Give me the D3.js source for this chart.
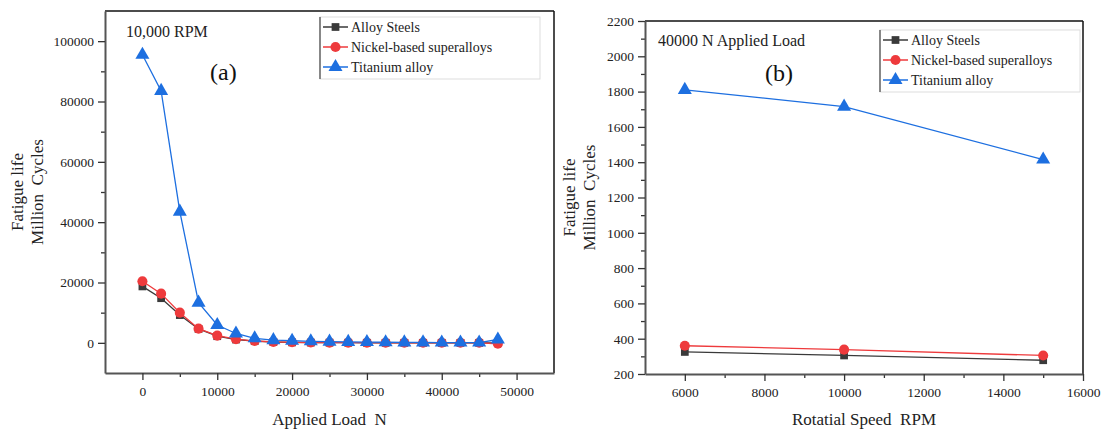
<!DOCTYPE html>
<html>
<head>
<meta charset="utf-8">
<script src="https://cdn.jsdelivr.net/npm/d3@7"></script>
<style>
  body { margin: 0; background: #fff; }
  svg text { font-family: "Liberation Serif", "Times New Roman", serif; white-space: pre; }
  .tick text { fill: #222; }
</style>
</head>
<body>
<div id="chart"></div>
<script>
/* DATA */
const seriesNames = ["Alloy Steels", "Nickel-based superalloys", "Titanium alloy"];

// panel (a): 10,000 RPM, varying load
const loadN = [0, 2500, 5000, 7500, 10000, 12500, 15000, 17500, 20000, 22500,
  25000, 27500, 30000, 32500, 35000, 37500, 40000, 42500, 45000, 47500];
const steelA = [18700, 14800, 9200, 4600, 2200, 1100, 550, 280, 150, 90,
  60, 40, 30, 20, 15, 10, 8, 5, 5, 0];
const nickelA = [20400, 16300, 10000, 4700, 2400, 1200, 600, 300, 200, 100,
  80, 50, 40, 30, 20, 20, 10, 10, 10, -300];
const titaniumA = [95500, 83500, 43500, 13300, 5900, 3100, 1500, 900, 700, 500,
  400, 300, 250, 200, 150, 150, 100, 100, 100, 1100];
const xTicksA = [0, 10000, 20000, 30000, 40000, 50000];
const yTicksA = [0, 20000, 40000, 60000, 80000, 100000];

// panel (b): 40000 N, varying speed
const speedRPM = [6000, 10000, 15000];
const steelB = [325, 305, 278];
const nickelB = [360, 338, 305];
const titaniumB = [1810, 1715, 1415];
const xTicksB = [6000, 8000, 10000, 12000, 14000, 16000];
const yTicksB = [200, 400, 600, 800, 1000, 1200, 1400, 1600, 1800, 2000, 2200];

/* STYLE */
const colors = ["#3a3a3a", "#ee3a3c", "#1d6fe0"];
const shapes = [d3.symbolSquare, d3.symbolCircle, d3.symbolTriangle];
const sizes = [60, 80, 85];
const serif = "Liberation Serif";

const svg = d3.select("#chart").append("svg")
  .attr("width", 1107)
  .attr("height", 432);

function panel(cfg) {
  const x = d3.scaleLinear().domain(cfg.xDomain).range([cfg.left, cfg.right]);
  const y = d3.scaleLinear().domain(cfg.yDomain).range([cfg.bottom, cfg.top]);
  const g = svg.append("g");

  // frame top/right
  g.append("line")
    .attr("x1", cfg.left).attr("x2", cfg.right)
    .attr("y1", cfg.top).attr("y2", cfg.top)
    .attr("stroke", "#111").attr("stroke-width", 1.5);
  g.append("line")
    .attr("x1", cfg.right).attr("x2", cfg.right)
    .attr("y1", cfg.top).attr("y2", cfg.bottom)
    .attr("stroke", "#111").attr("stroke-width", 1.5);

  // minor ticks
  g.append("g")
    .attr("transform", `translate(0,${cfg.bottom})`)
    .call(d3.axisBottom(x).tickValues(cfg.xMinor).tickSize(4).tickFormat(""))
    .call(a => a.select(".domain").remove())
    .selectAll("line").attr("stroke", "#333").attr("stroke-width", 1.3);
  g.append("g")
    .attr("transform", `translate(${cfg.left},0)`)
    .call(d3.axisLeft(y).tickValues(cfg.yMinor).tickSize(4).tickFormat(""))
    .call(a => a.select(".domain").remove())
    .selectAll("line").attr("stroke", "#333").attr("stroke-width", 1.3);

  // major axes
  const xAxis = g.append("g")
    .attr("transform", `translate(0,${cfg.bottom})`)
    .call(d3.axisBottom(x).tickValues(cfg.xTicks).tickSize(7).tickSizeOuter(0).tickPadding(6).tickFormat(d3.format("d")));
  const yAxis = g.append("g")
    .attr("transform", `translate(${cfg.left},0)`)
    .call(d3.axisLeft(y).tickValues(cfg.yTicks).tickSize(7).tickSizeOuter(0).tickPadding(4).tickFormat(d3.format("d")));
  [xAxis, yAxis].forEach(a => {
    a.attr("font-family", serif).attr("font-size", 13.5);
    a.select(".domain").attr("stroke", "#555").attr("stroke-width", 2);
    a.selectAll(".tick line").attr("stroke", "#333").attr("stroke-width", 1.3);
  });

  // series
  const lineGen = d3.line().x(d => x(d[0])).y(d => y(d[1]));
  cfg.series.forEach((vals, i) => {
    const pts = cfg.xs.map((v, j) => [v, vals[j]]);
    g.append("path")
      .datum(pts)
      .attr("fill", "none")
      .attr("stroke", colors[i])
      .attr("stroke-width", 1.3)
      .attr("d", lineGen);
    g.selectAll(null)
      .data(pts)
      .join("path")
      .attr("transform", d => `translate(${x(d[0])},${y(d[1])})`)
      .attr("d", d3.symbol().type(shapes[i]).size(sizes[i]))
      .attr("fill", colors[i]);
  });

  // legend
  const lg = g.append("g").attr("transform", `translate(${cfg.legend[0]},${cfg.legend[1]})`);
  lg.append("rect")
    .attr("x", 0).attr("y", 0)
    .attr("width", cfg.legendW).attr("height", 62)
    .attr("fill", "#fff").attr("stroke", "#ddd");
  lg.append("line")
    .attr("x1", 0).attr("x2", 0).attr("y1", 0).attr("y2", 62)
    .attr("stroke", "#444").attr("stroke-width", 1.2);
  seriesNames.forEach((name, i) => {
    const yy = 10 + i * 20;
    lg.append("line")
      .attr("x1", 3).attr("x2", 28).attr("y1", yy).attr("y2", yy)
      .attr("stroke", colors[i]).attr("stroke-width", 1.5);
    lg.append("path")
      .attr("transform", `translate(15.5,${yy})`)
      .attr("d", d3.symbol().type(shapes[i]).size(sizes[i]))
      .attr("fill", colors[i]);
    lg.append("text")
      .attr("x", 31).attr("y", yy + 4.5)
      .attr("font-size", 14)
      .attr("fill", "#222")
      .text(name);
  });

  // annotations
  g.append("text")
    .attr("x", cfg.note[0]).attr("y", cfg.note[1])
    .attr("font-size", 16).attr("fill", "#222")
    .text(cfg.noteText);
  g.append("text")
    .attr("x", cfg.tag[0]).attr("y", cfg.tag[1])
    .attr("font-size", 24).attr("fill", "#111")
    .text(cfg.tagText);

  // axis titles
  const midY = (cfg.top + cfg.bottom) / 2;
  const yl = g.append("text")
    .attr("transform", `translate(${cfg.yLabelX},${midY}) rotate(-90)`)
    .attr("text-anchor", "middle")
    .attr("font-size", 17).attr("fill", "#222");
  yl.append("tspan").attr("x", 0).attr("dy", 0).text("Fatigue life");
  yl.append("tspan").attr("x", 0).attr("dy", 20).text("Million  Cycles");

  g.append("text")
    .attr("x", (cfg.left + cfg.right) / 2).attr("y", 425)
    .attr("text-anchor", "middle")
    .attr("font-size", 17).attr("fill", "#222")
    .text(cfg.xLabel);
}

panel({
  left: 105, right: 554, top: 11, bottom: 373,
  xDomain: [-5000, 55000], yDomain: [-10000, 110000],
  xTicks: xTicksA, yTicks: yTicksA,
  xMinor: [5000, 15000, 25000, 35000, 45000],
  yMinor: [10000, 30000, 50000, 70000, 90000],
  xs: loadN, series: [steelA, nickelA, titaniumA],
  legend: [320, 17], legendW: 220,
  note: [126, 37], noteText: "10,000 RPM",
  tag: [210, 80], tagText: "(a)",
  yLabelX: 23, xLabel: "Applied Load  N"
});

panel({
  left: 645, right: 1083, top: 21, bottom: 374,
  xDomain: [5000, 16000], yDomain: [200, 2200],
  xTicks: xTicksB, yTicks: yTicksB,
  xMinor: [7000, 9000, 11000, 13000, 15000],
  yMinor: [300, 500, 700, 900, 1100, 1300, 1500, 1700, 1900, 2100],
  xs: speedRPM, series: [steelB, nickelB, titaniumB],
  legend: [880, 30], legendW: 200,
  note: [658, 46], noteText: "40000 N Applied Load",
  tag: [765, 81], tagText: "(b)",
  yLabelX: 575, xLabel: "Rotatial Speed  RPM"
});
</script>
</body>
</html>
